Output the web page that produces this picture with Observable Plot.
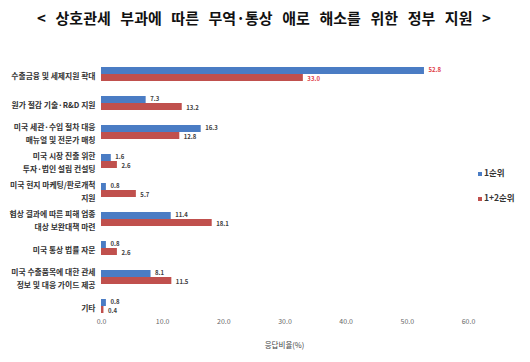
<!DOCTYPE html>
<html><head><meta charset="utf-8">
<script src="https://cdn.jsdelivr.net/npm/d3@7"></script>
<script src="https://cdn.jsdelivr.net/npm/@observablehq/plot@0.6"></script>
<style>
body{margin:0;background:#fff;font-family:"Noto Sans CJK KR","Noto Sans",sans-serif;}
#wrap{position:relative;width:530px;height:362px;}
#title{height:40px;line-height:36px;text-align:center;font-size:15px;font-weight:bold;color:#111;word-spacing:6.2px;padding-right:2px;}
#legend{position:absolute;left:478px;top:160px;font-size:8.5px;font-weight:bold;color:#333;line-height:25px;}
#legend span.sw{display:inline-block;width:4px;height:4px;margin-right:2px;vertical-align:middle;}
#xlabel{position:absolute;left:101px;width:367px;top:339px;text-align:center;font-size:7.5px;color:#444;}
</style></head>
<body><div id="wrap">
<div id="title">&lt; 상호관세 부과에 따른 무역·통상 애로 해소를 위한 정부 지원 &gt;</div>
<div id="chart"></div>
<div id="legend"></div>
<div id="xlabel"></div>
</div>
<script>
const categories = [
  "수출금융 및 세제지원 확대",
  "원가 절감 기술·R&D 지원",
  "미국 세관·수입 절차 대응\n매뉴얼 및 전문가 매칭",
  "미국 시장 진출 위한\n투자·법인 설립 컨설팅",
  "미국 현지 마케팅/판로개척\n지원",
  "협상 결과에 따른 피해 업종\n대상 보완대책 마련",
  "미국 통상 법률 자문",
  "미국 수출품목에 대한 관세\n정보 및 대응 가이드 제공",
  "기타"
];
const seriesNames = ["1순위", "1+2순위"];
const first = [52.8, 7.3, 16.3, 1.6, 0.8, 11.4, 0.8, 8.1, 0.8];
const firstSecond = [33.0, 13.2, 12.8, 2.6, 5.7, 18.1, 2.6, 11.5, 0.4];
const xTicks = [0, 10, 20, 30, 40, 50, 60];
const xLabel = "응답비율(%)";
const colors = ["#4a7cc4", "#c0504d"];

const data = [];
categories.forEach((c, i) => {
  data.push({cat: c, series: seriesNames[0], value: first[i], idx: i});
  data.push({cat: c, series: seriesNames[1], value: firstSecond[i], idx: i});
});

const labelMark = (s, dy) => Plot.text(data.filter(d => d.series === s), {
  fy: "cat", y: "series", x: "value", text: d => d.value.toFixed(1), dx: 4, dy, textAnchor: "start",
  fontSize: 6, fontWeight: "bold", fill: d => d.idx === 0 ? "#e0404a" : "#404040"});

const chart = Plot.plot({
  width: 530,
  height: 322,
  marginLeft: 101,
  marginRight: 62,
  marginTop: 17,
  marginBottom: 40,
  style: {fontFamily: '"Noto Sans CJK KR","Noto Sans",sans-serif', fontSize: "7px", background: "white", color: "#666"},
  x: {domain: [0, 60], ticks: xTicks, tickFormat: d3.format(".1f"), tickSize: 0, tickPadding: 6, label: null},
  fy: {domain: categories, paddingInner: 0.525, paddingOuter: 0.26, axis: null, label: null},
  y: {domain: seriesNames, axis: null, padding: 0},
  color: {domain: seriesNames, range: colors},
  marks: [
    Plot.ruleX(xTicks, {x: d => d, stroke: "#dcdcdc", strokeWidth: 1, insetTop: -8, insetBottom: -8, fy: () => null}),
    Plot.barX(data, {fy: "cat", y: "series", x: "value", fill: "series"}),
    labelMark(seriesNames[0], -0.6),
    labelMark(seriesNames[1], 0.6),
    Plot.text(categories, {fy: d => d, text: d => d, frameAnchor: "left", textAnchor: "end", dx: -6,
      lineHeight: 1.6, fontSize: 7.8, fontWeight: "bold", fill: "#333"})
  ]
});
document.getElementById("chart").appendChild(chart);
document.getElementById("xlabel").textContent = xLabel;

const leg = document.getElementById("legend");
seriesNames.forEach((s, i) => {
  const div = document.createElement("div");
  div.innerHTML = `<span class="sw" style="background:${colors[i]}"></span>${s}`;
  leg.appendChild(div);
});
</script>
</body></html>
